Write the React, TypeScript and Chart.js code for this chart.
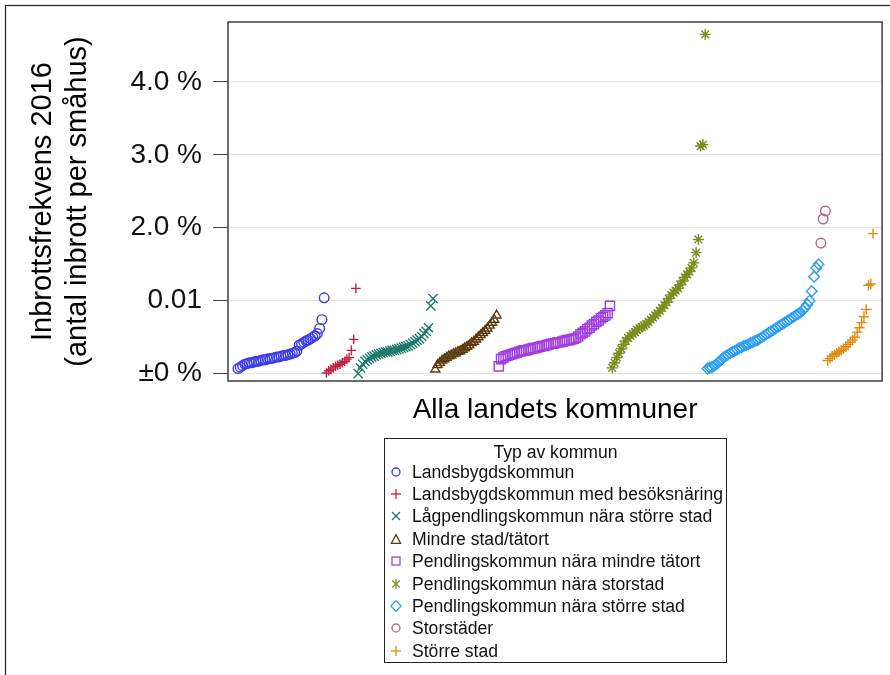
import React, { useEffect, useRef } from "react";
import { Chart, registerables } from "chart.js";

Chart.register(...registerables);

// ---- Data (values in % of småhus) ----
const categories = [
  "Landsbygdskommun",
  "Landsbygdskommun med besöksnäring",
  "Lågpendlingskommun nära större stad",
  "Mindre stad/tätort",
  "Pendlingskommun nära mindre tätort",
  "Pendlingskommun nära storstad",
  "Pendlingskommun nära större stad",
  "Storstäder",
  "Större stad",
];

const landsbygd = [
  0.07, 0.09, 0.11, 0.13, 0.14, 0.15, 0.15, 0.16, 0.17, 0.17,
  0.18, 0.19, 0.19, 0.2, 0.21, 0.21, 0.22, 0.23, 0.23, 0.24,
  0.25, 0.25, 0.26, 0.27, 0.28, 0.29, 0.31, 0.39, 0.41, 0.43,
  0.45, 0.46, 0.48, 0.5, 0.52, 0.55, 0.62, 0.74, 1.04,
];
const landsbygdBesok = [
  0.01, 0.04, 0.06, 0.08, 0.1, 0.12, 0.13, 0.15, 0.17, 0.2,
  0.22, 0.32, 0.47, 1.17,
];
const lagpendling = [
  0.0, 0.08, 0.13, 0.17, 0.19, 0.21, 0.23, 0.24, 0.26, 0.27,
  0.28, 0.29, 0.3, 0.3, 0.31, 0.32, 0.32, 0.33, 0.34, 0.35,
  0.36, 0.37, 0.38, 0.4, 0.42, 0.44, 0.46, 0.48, 0.51, 0.55,
  0.58, 0.63, 0.93, 1.03,
];
const mindreStad = [
  0.06, 0.12, 0.15, 0.18, 0.2, 0.22, 0.24, 0.25, 0.27, 0.28,
  0.3, 0.31, 0.33, 0.35, 0.37, 0.39, 0.42, 0.44, 0.47, 0.5,
  0.53, 0.56, 0.59, 0.62, 0.66, 0.7, 0.74, 0.8,
];
const pendlMindre = [
  0.1, 0.2, 0.22, 0.24, 0.25, 0.26, 0.27, 0.28, 0.29, 0.3,
  0.31, 0.32, 0.32, 0.33, 0.34, 0.35, 0.35, 0.36, 0.37, 0.38,
  0.38, 0.39, 0.4, 0.41, 0.41, 0.42, 0.43, 0.43, 0.44, 0.45,
  0.46, 0.46, 0.47, 0.48, 0.49, 0.51, 0.54, 0.56, 0.58, 0.61,
  0.63, 0.66, 0.68, 0.71, 0.73, 0.76, 0.78, 0.8, 0.83, 0.93,
];
const pendlStorstad = [
  0.08, 0.15, 0.22, 0.28, 0.34, 0.4, 0.45, 0.49, 0.52, 0.55,
  0.57, 0.6, 0.62, 0.64, 0.66, 0.68, 0.71, 0.74, 0.77, 0.8,
  0.83, 0.86, 0.9, 0.94, 0.98, 1.03, 1.08, 1.11, 1.14, 1.17,
  1.22, 1.27, 1.32, 1.36, 1.4, 1.45, 1.52, 1.66, 1.84, 3.12,
  3.14, 4.65,
];
const pendlStorre = [
  0.07, 0.08, 0.09, 0.11, 0.13, 0.16, 0.19, 0.22, 0.24, 0.26,
  0.28, 0.3, 0.31, 0.33, 0.35, 0.36, 0.38, 0.39, 0.4, 0.42,
  0.43, 0.45, 0.46, 0.48, 0.5, 0.52, 0.54, 0.56, 0.58, 0.6,
  0.62, 0.64, 0.66, 0.68, 0.7, 0.72, 0.74, 0.76, 0.78, 0.8,
  0.82, 0.84, 0.87, 0.9, 0.95, 1.0, 1.13, 1.33, 1.45, 1.5,
];
const storstader = [1.79, 2.12, 2.23];
const storreStad = [
  0.18, 0.21, 0.24, 0.26, 0.28, 0.3, 0.32, 0.34, 0.37, 0.4,
  0.43, 0.46, 0.5, 0.57, 0.63, 0.7, 0.78, 0.88, 1.21, 1.23,
  1.92,
];

const seriesValues = [
  landsbygd, landsbygdBesok, lagpendling, mindreStad, pendlMindre,
  pendlStorstad, pendlStorre, storstader, storreStad,
];

const yTicks = [0, 1, 2, 3, 4];
const yTickLabels = ["±0 %", "0.01", "2.0 %", "3.0 %", "4.0 %"];

// ---- Styles ----
const colors = [
  "#3a3ae6", "#c41e3a", "#1b7a6c", "#5c3a0c", "#a13ee0",
  "#7b8e1e", "#2e9ef5", "#b5648a", "#e08a10",
];
const pointStyles = [
  "circle", "cross", "crossRot", "triangle", "rect",
  "star", "rectRot", "circle", "cross",
];
const radii = [4.8, 4.8, 6.5, 5.2, 6.5, 5.5, 5.3, 4.8, 5.2];

const FONT = "'Liberation Sans', Arial, Helvetica, sans-serif";

function LegendSymbol({ style, color }: { style: string; color: string }) {
  const p = { stroke: color, strokeWidth: 1.3, fill: "none" };
  let shape: any = null;
  if (style === "circle") shape = <circle cx={6} cy={6} r={4} {...p} />;
  else if (style === "cross")
    shape = (
      <g {...p}>
        <line x1={1} y1={6} x2={11} y2={6} />
        <line x1={6} y1={1} x2={6} y2={11} />
      </g>
    );
  else if (style === "crossRot")
    shape = (
      <g {...p}>
        <line x1={2} y1={2} x2={10} y2={10} />
        <line x1={2} y1={10} x2={10} y2={2} />
      </g>
    );
  else if (style === "triangle")
    shape = <polygon points="6,1.6 10.6,10.3 1.4,10.3" {...p} />;
  else if (style === "rect")
    shape = <rect x={2} y={2} width={8} height={8} {...p} />;
  else if (style === "star")
    shape = (
      <g {...p}>
        <line x1={6} y1={1} x2={6} y2={11} />
        <line x1={2.2} y1={2.5} x2={9.8} y2={9.5} />
        <line x1={2.2} y1={9.5} x2={9.8} y2={2.5} />
      </g>
    );
  else if (style === "rectRot")
    shape = <polygon points="6,0.8 11.2,6 6,11.2 0.8,6" {...p} />;
  return (
    <svg width={12} height={12} style={{ position: "absolute", left: 5, top: 5.2 }}>
      {shape}
    </svg>
  );
}

const framePlugin = {
  id: "frames",
  afterDraw(chart: any) {
    const { ctx, chartArea } = chart;
    ctx.save();
    // outer image frame
    ctx.strokeStyle = "#222";
    ctx.lineWidth = 1.2;
    ctx.strokeRect(5.5, 5.5, 900, 700);
    // plot frame
    ctx.strokeStyle = "#3c3c3c";
    ctx.lineWidth = 1.5;
    ctx.strokeRect(
      chartArea.left,
      chartArea.top,
      chartArea.right - chartArea.left,
      chartArea.bottom - chartArea.top
    );
    ctx.restore();
  },
};

export default function App() {
  const ref = useRef<HTMLCanvasElement | null>(null);

  useEffect(() => {
    if (!ref.current) return;
    let idx = 0;
    const datasets = seriesValues.map((vals, s) => {
      const start = idx;
      idx += vals.length;
      return {
        label: categories[s],
        data: vals.map((v, i) => ({ x: start + i, y: v })),
        pointStyle: pointStyles[s] as any,
        pointRadius: radii[s],
        pointHoverRadius: radii[s],
        borderColor: colors[s],
        backgroundColor: "rgba(0,0,0,0)",
        pointBorderWidth: 1.4,
        borderWidth: 1.4,
        showLine: false,
      };
    });

    const chart = new Chart(ref.current, {
      type: "scatter",
      data: { datasets },
      plugins: [framePlugin],
      options: {
        animation: false,
        responsive: false,
        devicePixelRatio: 1,
        layout: { padding: { left: 0, top: 22, right: 5, bottom: 0 } },
        plugins: {
          legend: { display: false },
          tooltip: { enabled: false },
        },
        scales: {
          x: {
            type: "linear",
            min: -4.4,
            max: 284,
            ticks: { display: false },
            grid: { display: false, drawTicks: false },
            border: { display: false },
            title: {
              display: true,
              text: "Alla landets kommuner",
              color: "#000",
              font: { family: FONT, size: 28 },
              padding: { top: 0, bottom: 248 },
            },
            afterFit(scale: any) {
              scale.height = 675 - 381;
              scale.paddingLeft = 0;
              scale.paddingRight = 0;
            },
          },
          y: {
            type: "linear",
            min: -0.1,
            max: 4.82,
            afterBuildTicks(scale: any) {
              scale.ticks = yTicks.map((v) => ({ value: v }));
            },
            ticks: {
              color: "#111",
              font: { family: FONT, size: 28 },
              padding: 11,
              callback: (value: any) => {
                const i = yTicks.indexOf(Number(value));
                return i >= 0 ? yTickLabels[i] : "";
              },
            },
            grid: {
              color: "#e3e3e3",
              lineWidth: 1,
              tickColor: "#444",
              tickLength: 15,
              drawTicks: true,
            },
            border: { display: false },
            title: {
              display: true,
              text: ["Inbrottsfrekvens 2016", "(antal inbrott per småhus)"],
              color: "#000",
              font: { family: FONT, size: 29 },
              padding: { top: 26, bottom: 0 },
            },
            afterFit(scale: any) {
              scale.width = 228;
              scale.paddingTop = 0;
              scale.paddingBottom = 0;
            },
          },
        },
      } as any,
    });
    return () => chart.destroy();
  }, []);

  const rowH = 22.4;
  const firstRow = 471.7;

  return (
    <div style={{ position: "absolute", left: 0, top: 0, width: 890, height: 675, background: "#fff" }}>
      <canvas ref={ref} width={890} height={675} style={{ width: 890, height: 675, display: "block" }} />
      <div
        style={{
          position: "absolute",
          left: 384,
          top: 438,
          width: 343,
          height: 225,
          boxSizing: "border-box",
          border: "1px solid #222",
          fontFamily: FONT,
          color: "#111",
        }}
      >
        <div
          style={{
            position: "absolute",
            left: 0,
            right: 0,
            top: 2,
            height: 22,
            lineHeight: "22px",
            textAlign: "center",
            fontSize: 17.6,
          }}
        >
          Typ av kommun
        </div>
        {categories.map((c, i) => (
          <div
            key={c}
            style={{
              position: "absolute",
              left: 0,
              top: firstRow - 438 - rowH / 2 + i * rowH - 1,
              height: rowH,
              width: 340,
            }}
          >
            <LegendSymbol style={pointStyles[i]} color={colors[i]} />
            <span
              style={{
                position: "absolute",
                left: 27,
                top: 0,
                lineHeight: `${rowH}px`,
                fontSize: 17.6,
                whiteSpace: "nowrap",
              }}
            >
              {c}
            </span>
          </div>
        ))}
      </div>
    </div>
  );
}
